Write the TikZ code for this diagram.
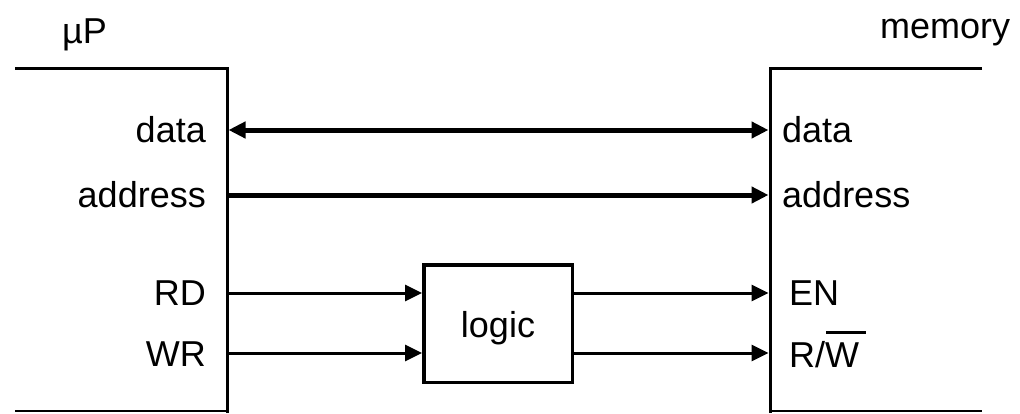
\documentclass[tikz,border=0pt]{standalone}
\usepackage{fontspec}
\setmainfont{Liberation Sans}
\usetikzlibrary{arrows.meta}
\newcommand\myovl[1]{\setbox0\hbox{#1}\rlap{\kern1pt\rule[33pt]{\dimexpr\wd0+6pt\relax}{3pt}}\box0}
\begin{document}
\begin{tikzpicture}[x=1pt,y=-1pt,
  font=\fontsize{36}{43}\selectfont,
  lbl/.style={inner sep=0pt},
  wall/.style={line width=3pt},
  bus/.style={line width=5pt},
  sig/.style={line width=3pt},
  tip/.style={-{Triangle[length=17pt,width=16pt]}},
  tips/.style={{Triangle[length=17pt,width=16pt]}-{Triangle[length=17pt,width=16pt]}}]
\useasboundingbox (0,0) rectangle (1020,413);
% boxes
\draw[wall] (15,68) -- (227,68) -- (227,413);
\draw[line width=2.5pt] (15,411) -- (227,411);
\draw[wall] (982,68) -- (770,68) -- (770,413);
\draw[line width=2.5pt] (770,411) -- (982,411);
% titles
\node[lbl,anchor=base west] (tup) at (62,43) {µP};
\node[lbl,anchor=base west] (tmem) at (880,38) {memory};
% left labels
\node[lbl,anchor=base east] (ldata) at (206,142) {data};
\node[lbl,anchor=base east] (laddr) at (206,207) {address};
\node[lbl,anchor=base east] (lrd) at (206,305) {RD};
\node[lbl,anchor=base east] (lwr) at (206,366) {WR};
% right labels
\node[lbl,anchor=base west] (rdata) at (782,142) {data};
\node[lbl,anchor=base west] (raddr) at (782,207) {address};
\node[lbl,anchor=base west] (ren) at (789,305) {EN};
\node[lbl,anchor=base west] (rrw) at (789,367) {R/\myovl{W}};
% end points on walls
\coordinate (pdL) at (228.5,130);
\coordinate (pdR) at (768.5,130);
\coordinate (paL) at (228.5,195);
\coordinate (paR) at (768.5,195);
\coordinate (prd) at (228.5,293);
\coordinate (pwr) at (228.5,353);
\coordinate (pen) at (768.5,293);
\coordinate (prw) at (768.5,353);
% logic
\node[draw,line width=3.5pt,minimum width=148.5pt,minimum height=117.5pt,
      text height=30pt,text depth=3pt,inner sep=0pt] (logic) at (498,323.5) {logic};
% connectors
\draw[bus,tips] (pdL) -- (pdR);
\draw[bus,tip] (paL) -- (paR);
\draw[sig,tip] (prd) -- (prd -| logic.west);
\draw[sig,tip] (pwr) -- (pwr -| logic.west);
\draw[sig,tip] (logic.east |- pen) -- (pen);
\draw[sig,tip] (logic.east |- prw) -- (prw);
\end{tikzpicture}
\end{document}
